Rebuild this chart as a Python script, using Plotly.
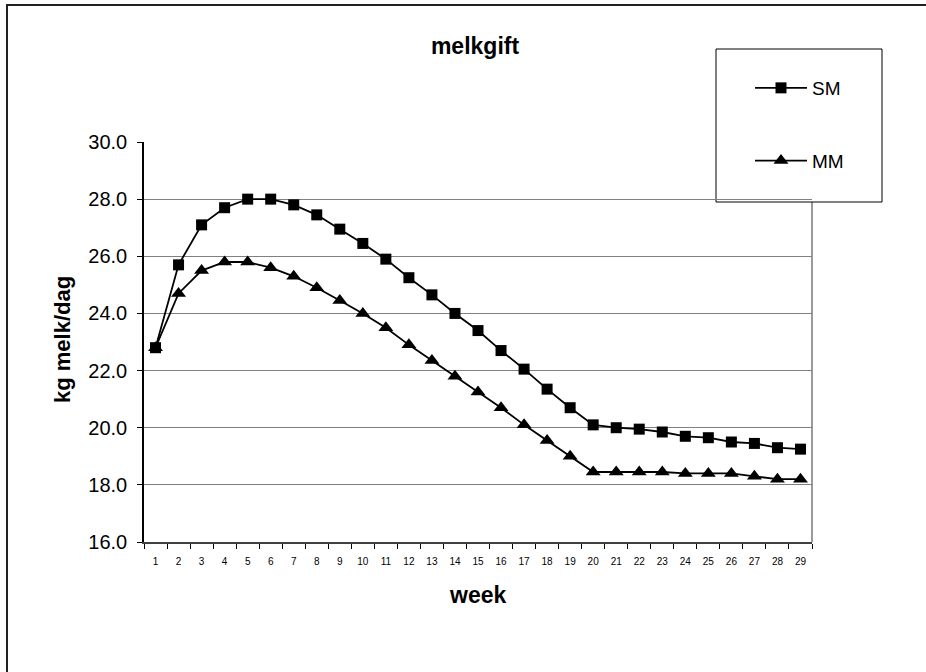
import plotly.graph_objects as go

weeks = [str(i) for i in range(1, 30)]
sm = [22.8, 25.7, 27.1, 27.7, 28.0, 28.0, 27.8, 27.45, 26.95, 26.45, 25.9, 25.25,
      24.65, 24.0, 23.4, 22.7, 22.05, 21.35, 20.7, 20.1, 20.0, 19.95, 19.85, 19.7,
      19.65, 19.5, 19.45, 19.3, 19.25]
mm = [22.8, 24.7, 25.5, 25.8, 25.8, 25.6, 25.3, 24.9, 24.45, 24.0, 23.5, 22.9,
      22.35, 21.8, 21.25, 20.7, 20.1, 19.55, 19.0, 18.45, 18.45, 18.45, 18.45, 18.4,
      18.4, 18.4, 18.3, 18.2, 18.2]
y_ticks = [16, 18, 20, 22, 24, 26, 28, 30]

FONT = "Liberation Sans, Arial, sans-serif"

fig = go.Figure()
fig.add_trace(go.Scatter(
    x=weeks, y=sm, name="SM", mode="lines+markers", legendgroup="a",
    line=dict(color="black", width=1.8),
    marker=dict(symbol="square", size=11, color="black"),
))
fig.add_trace(go.Scatter(
    x=weeks, y=mm, name="MM", mode="lines+markers", legendgroup="b",
    line=dict(color="black", width=1.8),
    marker=dict(symbol="triangle-up", size=13, color="black"),
))

L, R, T, B = 144, 812, 142, 542
W, H = 926, 672

fig.update_layout(
    width=W, height=H,
    margin=dict(l=L, r=W - R, t=T, b=H - B),
    paper_bgcolor="white", plot_bgcolor="white",
    font=dict(family=FONT, color="black"),
    title=dict(text="<b>melkgift</b>", x=475 / W, xanchor="center",
               y=1 - 46 / H, yanchor="middle",
               font=dict(size=23, family=FONT, color="black")),
    showlegend=True,
    legend=dict(
        x=(750 - L) / (R - L), xanchor="left",
        y=(B - 69) / (B - T), yanchor="top",
        bgcolor="rgba(0,0,0,0)", borderwidth=0,
        font=dict(size=19, family=FONT, color="black"),
        tracegroupgap=45, itemwidth=52,
    ),
    xaxis=dict(
        type="category", range=[-0.5, 28.5],
        showgrid=False, showline=True, linecolor="#404040", linewidth=1.5,
        ticks="outside", tickson="boundaries", ticklen=5, tickcolor="black",
        tickfont=dict(size=10, family=FONT, color="black"),
        ticklabelstandoff=9, zeroline=False,
    ),
    yaxis=dict(
        range=[16, 30], tickvals=y_ticks, tickformat=".1f",
        showgrid=True, gridcolor="#808080", gridwidth=1,
        showline=True, linecolor="black", linewidth=1.5,
        ticks="outside", ticklen=5, tickcolor="black",
        tickfont=dict(size=20, family=FONT, color="black"),
        ticklabelstandoff=6, zeroline=False,
    ),
    shapes=[
        # plot area border (right side gray)
        dict(type="line", xref="paper", yref="paper", x0=1, x1=1, y0=0, y1=1,
             line=dict(color="#9a9a9a", width=2), layer="below"),
        # legend box
        dict(type="rect", xref="paper", yref="paper",
             x0=(716 - L) / (R - L), x1=(882 - L) / (R - L),
             y0=(B - 202) / (B - T), y1=(B - 49) / (B - T),
             line=dict(color="black", width=1), fillcolor="white", layer="below"),
        # outer chart border (left and top visible)
        dict(type="rect", xref="paper", yref="paper",
             x0=(7 - L) / (R - L), x1=(940 - L) / (R - L),
             y0=(B - 690) / (B - T), y1=(B - 5) / (B - T),
             line=dict(color="#202020", width=2), layer="below"),
    ],
    annotations=[
        dict(text="<b>kg melk/dag</b>", xref="paper", yref="paper",
             x=(62 - L) / (R - L), y=(B - 340) / (B - T),
             xanchor="center", yanchor="middle", textangle=-90, showarrow=False,
             font=dict(size=22, family=FONT, color="black")),
        dict(text="<b>week</b>", xref="paper", yref="paper",
             x=(477 - L) / (R - L), y=(B - 595) / (B - T),
             xanchor="center", yanchor="middle", showarrow=False,
             font=dict(size=23, family=FONT, color="black")),
    ],
)

fig.write_html("out.html")
